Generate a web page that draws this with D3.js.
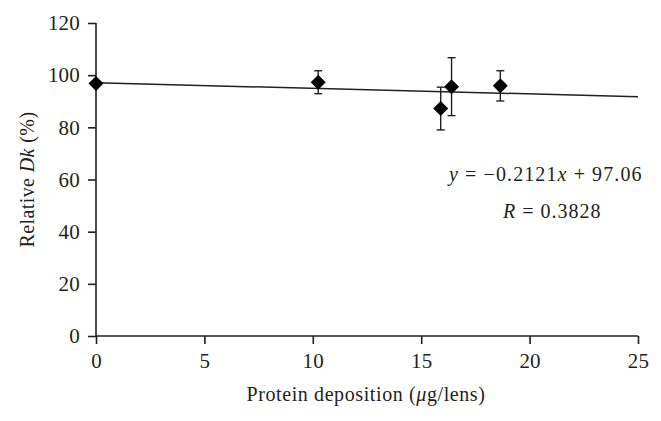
<!DOCTYPE html>
<html>
<head>
<meta charset="utf-8">
<script src="https://cdn.jsdelivr.net/npm/d3@7"></script>
<style>
  body { margin: 0; background: #fff; }
</style>
</head>
<body>
<svg id="chart" width="661" height="421"></svg>
<script>
// data
var deposition = [0, 10.25, 15.9, 16.4, 18.65];
var relDk = [96.8, 97.3, 87.2, 95.6, 95.9];
var errBar = [0, 4.4, 8.2, 11.1, 5.8];
var xTicks = [0, 5, 10, 15, 20, 25];
var yTicks = [0, 20, 40, 60, 80, 100, 120];
var slope = -0.2121, intercept = 97.06;

var serif = '"Liberation Serif", "DejaVu Serif", serif';
var ink = '#231f20';
var margin = {top: 23, right: 23, bottom: 85, left: 96};
var width = 661, height = 421;

var svg = d3.select('#chart');
var g = svg.append('g');

var x = d3.scaleLinear().domain([0, 25]).range([margin.left, width - margin.right]);
var y = d3.scaleLinear().domain([0, 120]).range([height - margin.bottom, margin.top]);

var pts = deposition.map(function(d, i) {
  return {x: d, y: relDk[i], e: errBar[i]};
});

var styleAxis = function(a) {
  a.attr('font-family', serif).attr('font-size', 21);
  a.selectAll('path, line').attr('stroke', ink).attr('stroke-width', 1.6);
  a.selectAll('text').attr('fill', ink).style('letter-spacing', '0.2px');
};

// axes
g.append('g')
    .attr('transform', 'translate(0,' + y(0) + ')')
    .call(d3.axisBottom(x).tickValues(xTicks).tickSize(8).tickSizeOuter(0).tickPadding(9))
    .call(function(a) { a.select('.domain').attr('d', 'M' + x(0) + ',0H' + x(25)); })
    .call(styleAxis);

g.append('g')
    .attr('transform', 'translate(' + x(0) + ',0)')
    .call(d3.axisLeft(y).tickValues(yTicks).tickSize(8).tickSizeOuter(0).tickPadding(8))
    .call(function(a) { a.select('.domain').attr('d', 'M0,' + y(0) + 'V' + y(120)); })
    .call(styleAxis);

// trend line
var trend = [0, 25].map(function(v) { return {x: v, y: intercept + slope * v}; });
g.append('path')
    .datum(trend)
    .attr('fill', 'none')
    .attr('stroke', ink)
    .attr('stroke-width', 1.5)
    .attr('d', d3.line().x(function(d) { return x(d.x); }).y(function(d) { return y(d.y); }));

// error bars
var eb = g.selectAll('.eb')
    .data(pts.filter(function(d) { return d.e > 0; }))
    .enter().append('g')
    .attr('stroke', ink)
    .attr('stroke-width', 1.4);
eb.append('line')
    .attr('x1', function(d) { return x(d.x); })
    .attr('x2', function(d) { return x(d.x); })
    .attr('y1', function(d) { return y(d.y + d.e); })
    .attr('y2', function(d) { return y(d.y - d.e); });
eb.append('line')
    .attr('x1', function(d) { return x(d.x) - 4; })
    .attr('x2', function(d) { return x(d.x) + 4; })
    .attr('y1', function(d) { return y(d.y + d.e); })
    .attr('y2', function(d) { return y(d.y + d.e); });
eb.append('line')
    .attr('x1', function(d) { return x(d.x) - 4; })
    .attr('x2', function(d) { return x(d.x) + 4; })
    .attr('y1', function(d) { return y(d.y - d.e); })
    .attr('y2', function(d) { return y(d.y - d.e); });

// diamonds
g.selectAll('.pt')
    .data(pts)
    .enter().append('path')
    .attr('fill', '#000')
    .attr('transform', function(d) { return 'translate(' + x(d.x) + ',' + y(d.y) + ')'; })
    .attr('d', 'M0,-7.5L7.5,0L0,7.5L-7.5,0Z');

// equation labels
var eq = svg.append('text')
    .attr('x', 449).attr('y', 181)
    .attr('font-family', serif)
    .attr('font-size', 20)
    .attr('fill', ink)
    .style('letter-spacing', '1.1px');
eq.append('tspan').style('font-style', 'italic').text('y');
eq.append('tspan').text(' = \u22120.2121');
eq.append('tspan').style('font-style', 'italic').text('x');
eq.append('tspan').text(' + 97.06');

var rr = svg.append('text')
    .attr('x', 503).attr('y', 218)
    .attr('font-family', serif)
    .attr('font-size', 20)
    .attr('fill', ink)
    .style('letter-spacing', '1px');
rr.append('tspan').style('font-style', 'italic').text('R');
rr.append('tspan').text(' = 0.3828');

// axis titles
var xt = svg.append('text')
    .attr('x', 366).attr('y', 401)
    .attr('text-anchor', 'middle')
    .attr('font-family', serif)
    .attr('font-size', 20)
    .attr('fill', ink)
    .style('letter-spacing', '0.6px');
xt.append('tspan').text('Protein deposition (');
xt.append('tspan').style('font-style', 'italic').text('\u03bc');
xt.append('tspan').text('g/lens)');

var yt = svg.append('text')
    .attr('transform', 'translate(34,' + y(60) + ') rotate(-90)')
    .attr('text-anchor', 'middle')
    .attr('font-family', serif)
    .attr('font-size', 20)
    .attr('fill', ink)
    .style('letter-spacing', '0.4px');
yt.append('tspan').text('Relative ');
yt.append('tspan').style('font-style', 'italic').text('Dk');
yt.append('tspan').text(' (%)');
</script>
</body>
</html>
